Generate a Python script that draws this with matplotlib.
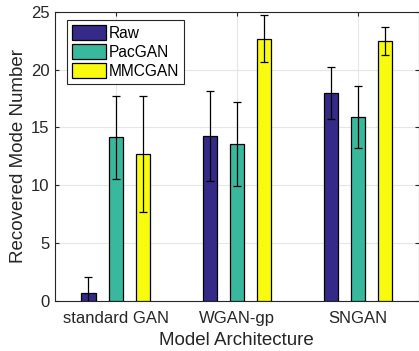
import numpy as np
import matplotlib.pyplot as plt

plt.rcParams['font.family'] = ['Liberation Sans', 'DejaVu Sans']

# data
modelos = ['standard GAN', 'WGAN-gp', 'SNGAN']
series = ['Raw', 'PacGAN', 'MMCGAN']
raw = [0.7, 14.3, 18.0]
raw_err = [1.4, 3.9, 2.25]
pacgan = [14.15, 13.55, 15.9]
pacgan_err = [3.6, 3.65, 2.7]
mmcgan = [12.7, 22.7, 22.5]
mmcgan_err = [5.05, 2.05, 1.2]

cores = ['#352A87', '#38B99E', '#F9FB0E']
valores = [raw, pacgan, mmcgan]
erros = [raw_err, pacgan_err, mmcgan_err]

fig = plt.figure(figsize=(4.19, 3.51), dpi=100)
ax = fig.add_axes([0.131, 0.143, 0.8685, 0.823])

x = np.arange(1, len(modelos) + 1)
desloc = 0.223
largura = 0.116
for i in range(3):
    pos = x + (i - 1) * desloc
    ax.bar(pos, valores[i], width=largura, color=cores[i], edgecolor='black',
           linewidth=0.9, label=series[i], zorder=3)
    ax.errorbar(pos, valores[i], yerr=erros[i], fmt='none', ecolor='black',
                elinewidth=0.9, capsize=3, capthick=0.9, zorder=4)

ax.set_xlim(0.5, 3.5)
ax.set_ylim(0, 25)
ax.set_xticks(x)
ax.set_xticklabels(modelos)
ax.set_yticks([0, 5, 10, 15, 20, 25])
ax.tick_params(direction='in', top=True, right=True, labelsize=12, length=3,
               color='#262626', labelcolor='#262626')
ax.tick_params(axis='x', pad=7)
ax.tick_params(axis='y', pad=4)
ax.grid(True, color='#e6e6e6', linewidth=0.8, zorder=0)
for s in ax.spines.values():
    s.set_color('#262626')
    s.set_linewidth(0.8)
ax.set_xlabel('Model Architecture', fontsize=13.5, color='#262626', labelpad=5)
ax.set_ylabel('Recovered Mode Number', fontsize=13.5, color='#262626', labelpad=3)

leg = ax.legend(loc='upper left', bbox_to_anchor=(0.032, 0.972), fontsize=11.2,
                fancybox=False, framealpha=1, edgecolor='#262626',
                handlelength=2.2, handleheight=1.1, handletextpad=0.15,
                borderpad=0.35, labelspacing=0.2, borderaxespad=0)
leg.get_frame().set_linewidth(0.8)

fig.savefig('out.png', dpi=100)
